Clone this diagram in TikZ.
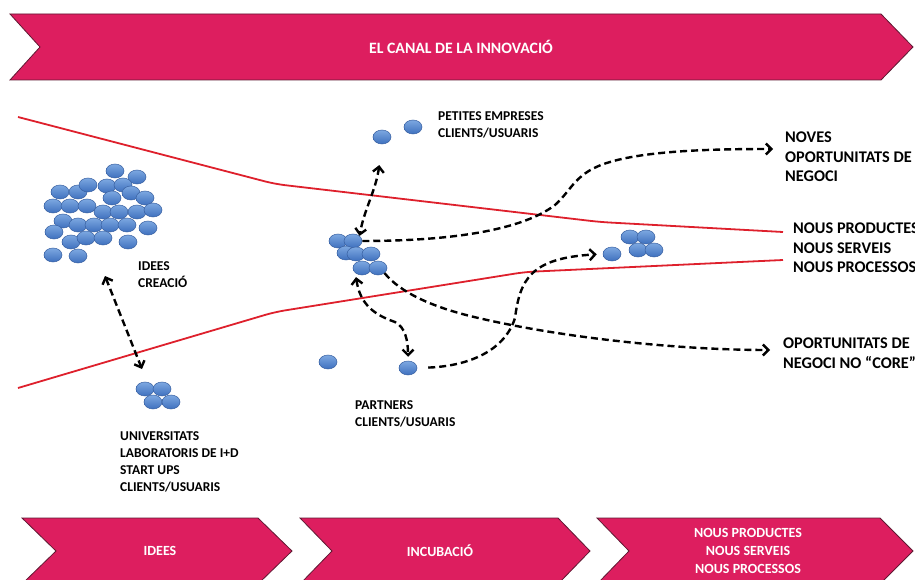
\documentclass[tikz,border=0pt]{standalone}
\usepackage{fontspec}
\setmainfont{Carlito}
\usepackage{tikz}
\usetikzlibrary{shapes.geometric}
\usetikzlibrary{arrows.meta}
\definecolor{canal}{RGB}{221,30,95}
\definecolor{canaledge}{RGB}{95,25,50}
\definecolor{blobtop}{RGB}{125,168,225}
\definecolor{blobbottom}{RGB}{62,112,190}
\definecolor{blobedge}{RGB}{55,95,160}
\definecolor{limit}{RGB}{222,32,44}
\tikzset{
  blob/.style={ellipse, draw=blobedge, line width=0.5pt, top color=blobtop, bottom color=blobbottom,
    minimum width=18pt, minimum height=14pt, inner sep=0pt},
  banner/.style={fill=canal, draw=canaledge, line width=0.8pt},
  wall/.style={draw=limit, line width=1.8pt, rounded corners=10pt},
  flow/.style={draw, line width=2.4pt, dash pattern=on 7pt off 4pt, >={Straight Barb[length=5.5pt,width=11pt]}},
  smalltext/.style={anchor=north west, inner sep=0pt, align=left, font=\bfseries\fontsize{13.5}{17}\selectfont},
  bigtext/.style={anchor=north west, inner sep=0pt, align=left, font=\bfseries\fontsize{16.3}{19.5}\selectfont},
  stagetext/.style={text=white, inner sep=0pt, align=center, font=\bfseries\fontsize{14}{18}\selectfont},
}

\begin{document}
\begin{tikzpicture}[x=1pt, y=-1pt]
    \path[use as bounding box] (0,0) rectangle (915,580);
    \clip (0,0) rectangle (915,580);

    % banners
    \draw[banner] (10,14) -- (881,14) -- (913,47) -- (881,80) -- (10,80) -- (40,47) -- cycle;
    \node[stagetext, font=\bfseries\fontsize{15.8}{18}\selectfont] at (461,47) (title) {EL CANAL DE LA INNOVACIÓ};

    \draw[banner] (22,518) -- (258,518) -- (292,551) -- (258,584) -- (22,584) -- (56,551) -- cycle;
    \draw[banner] (300,518) -- (558,518) -- (590,551) -- (558,584) -- (300,584) -- (332,551) -- cycle;
    \draw[banner] (597,518) -- (880,518) -- (913,551) -- (880,584) -- (597,584) -- (629,551) -- cycle;
    \node[stagetext] at (160,551) (ideas) {IDEES};
    \node[stagetext] at (440,551) (incub) {INCUBACIÓ};
    \node[stagetext] at (748,551) (result) {NOUS PRODUCTES\\NOUS SERVEIS\\NOUS PROCESSOS};

    % the channel
    \draw[wall] (18,117) -- (275,184) -- (600,222) -- (783,232);
    \draw[wall] (18,388) -- (275,312) -- (525,272) -- (783,260);

    % ideas
    \foreach \x/\y [count=\i] in {115/171,137/177,60/192,78/192,88/185,107/186,123/185,131/193,
        112/198,145/198,53/206,70/206,87/206,103/212,119/212,137/212,153/210,63/221,78/225,
        94/225,110/225,127/225,54/232,148/228,71/242,86/238,103/238,128/242,53/255,78/256}
        \node[blob] at (\x,\y) (idea\i) {};

    \foreach \x/\y [count=\i] in {338/241,353/241,346/253,356/254,371/254,362/268,378/268}
        \node[blob] at (\x,\y) (m\i) {};

    \node[blob] at (382,137) (p1) {};
    \node[blob] at (413,127) (p2) {};
    \node[blob] at (328,362) (q1) {};
    \node[blob] at (408,368) (q2) {};

    \foreach \x/\y [count=\i] in {145/389,162/389,153/402,171/402}
        \node[blob] at (\x,\y) (u\i) {};

    \foreach \x/\y [count=\i] in {612/254,630/237,646/237,638/250,654/250}
        \node[blob] at (\x,\y) (r\i) {};

    % texts
    \node[smalltext] at (138,261) (ideeslbl) {IDEES\\CREACIÓ};
    \node[smalltext] at (438,111) (petitlbl) {PETITES EMPRESES\\CLIENTS/USUARIS};
    \node[smalltext] at (355,400) (partlbl) {PARTNERS\\CLIENTS/USUARIS};
    \node[smalltext] at (120,431) (unilbl) {UNIVERSITATS\\LABORATORIS DE I+D\\START UPS\\CLIENTS/USUARIS};
    \node[bigtext] at (785,132) (noveslbl) {NOVES\\OPORTUNITATS DE\\NEGOCI};
    \node[bigtext] at (793,223) (nouslbl) {NOUS PRODUCTES\\NOUS SERVEIS\\NOUS PROCESSOS};
    \node[bigtext] at (783,338) (corelbl) {OPORTUNITATS DE\\NEGOCI NO “CORE”};

    \coordinate (ideestip) at (105,276);
    \coordinate (unitip) at (142,369);
    \coordinate (novestip) at (773,149);
    \coordinate (coretip) at (770,350);

    \draw[flow,<->] (ideestip) -- (unitip);
    \draw[flow,<->, shorten <=21pt] (p1.south) .. controls (376,190) and (364,210) .. (m2.north east);
    \draw[flow,->] (m2.east) .. controls (460,241) and (525,228) .. (555,205)
        .. controls (572,190) and (575,172) .. (610,162) .. controls (650,150) and (720,149) .. (novestip);
    \draw[flow,<->, shorten <=4pt, shorten >=4pt] (m6.south west) .. controls (360,305) and (375,315) .. (395,322)
        .. controls (405,327) and (408,340) .. (q2.north);
    \draw[flow,->] (m7.south east) .. controls (400,292) and (430,306) .. (470,316)
        .. controls (560,338) and (680,350) .. (coretip);
    \draw[flow,->, shorten <=11pt, shorten >=6pt] (q2.east) .. controls (470,366) and (505,350) .. (515,318)
        .. controls (520,280) and (530,258) .. (r1.west);
\end{tikzpicture}
\end{document}
